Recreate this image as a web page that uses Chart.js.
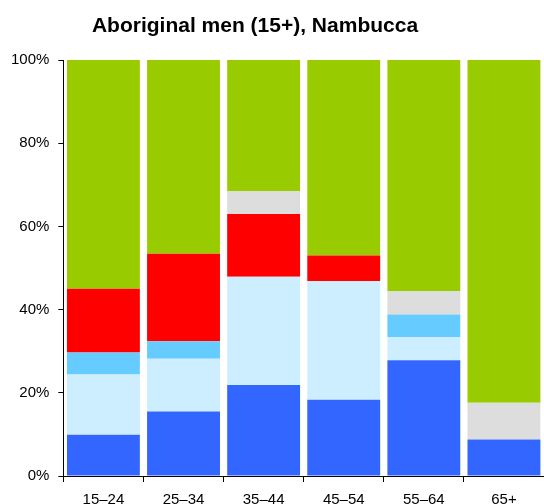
<!DOCTYPE html>
<html>
<head>
<meta charset="utf-8">
<script src="https://cdn.jsdelivr.net/npm/chart.js@4"></script>
<style>
  html, body { margin: 0; padding: 0; background: #fff; overflow: hidden; }
  #wrap { width: 544px; height: 518px; }
</style>
</head>
<body>
<div id="wrap"><canvas id="chart"></canvas></div>
<script>
// age groups and shares (%) per segment, bottom to top
const ageGroups = ['15\u201324', '25\u201334', '35\u201344', '45\u201354', '55\u201364', '65+'];
const seriesA = [9.9, 15.5, 21.9, 18.3, 27.8, 8.8];   // dark blue
const seriesB = [14.5, 12.7, 26.0, 28.6, 5.6, 0];     // pale blue
const seriesC = [5.3, 4.2, 0, 0, 5.4, 0];             // sky blue
const seriesD = [15.3, 21.0, 15.1, 6.1, 0, 0];        // red
const seriesE = [0, 0, 5.5, 0, 5.7, 8.8];             // grey
const seriesF = [55.0, 46.6, 31.5, 47.0, 55.5, 82.4]; // green
const yTicks = [0, 20, 40, 60, 80, 100];
const titleText = 'Aboriginal men (15+), Nambucca';

const colors = ['#3366ff', '#cceeff', '#66ccff', '#ff0000', '#dddddd', '#99cc00'];
const allSeries = [seriesA, seriesB, seriesC, seriesD, seriesE, seriesF];
const names = ['A', 'B', 'C', 'D', 'E', 'F'];

const fontFamily = '"Liberation Sans", Arial, Helvetica, sans-serif';
Chart.defaults.font.family = fontFamily;
Chart.defaults.color = '#000';

// title sits a bit left of the canvas centre in the original
const titlePlugin = {
  id: 'titleText',
  afterDraw(chart) {
    const ctx = chart.ctx;
    ctx.save();
    ctx.font = 'bold 21px ' + fontFamily;
    ctx.fillStyle = '#000';
    ctx.textAlign = 'center';
    ctx.textBaseline = 'alphabetic';
    ctx.fillText(titleText, 255, 31.5);
    ctx.restore();
  }
};

new Chart(document.getElementById('chart').getContext('2d'), {
  type: 'bar',
  data: {
    labels: ageGroups,
    datasets: allSeries.map((d, i) => ({
      label: names[i],
      data: d,
      backgroundColor: colors[i],
      borderWidth: 0,
      barPercentage: 0.91,
      categoryPercentage: 1
    }))
  },
  plugins: [titlePlugin],
  options: {
    responsive: true,
    maintainAspectRatio: false,
    animation: false,
    layout: { padding: { left: 2, right: 0, top: 60, bottom: 0 } },
    plugins: {
      legend: { display: false },
      tooltip: { enabled: false },
      title: { display: false }
    },
    scales: {
      x: {
        stacked: true,
        grid: { display: true, drawOnChartArea: false, offset: true, tickLength: 6, color: '#000' },
        border: { display: true, color: '#000', width: 1 },
        ticks: { font: { size: 15 }, padding: 9, maxRotation: 0 }
      },
      y: {
        stacked: true,
        min: 0,
        max: 100,
        afterBuildTicks: axis => { axis.ticks = yTicks.map(v => ({ value: v })); },
        grid: { drawOnChartArea: false, tickLength: 5, color: '#000' },
        border: { display: true, color: '#000', width: 1 },
        ticks: { font: { size: 15 }, padding: 9, callback: v => v + '%' }
      }
    }
  }
});
</script>
</body>
</html>
